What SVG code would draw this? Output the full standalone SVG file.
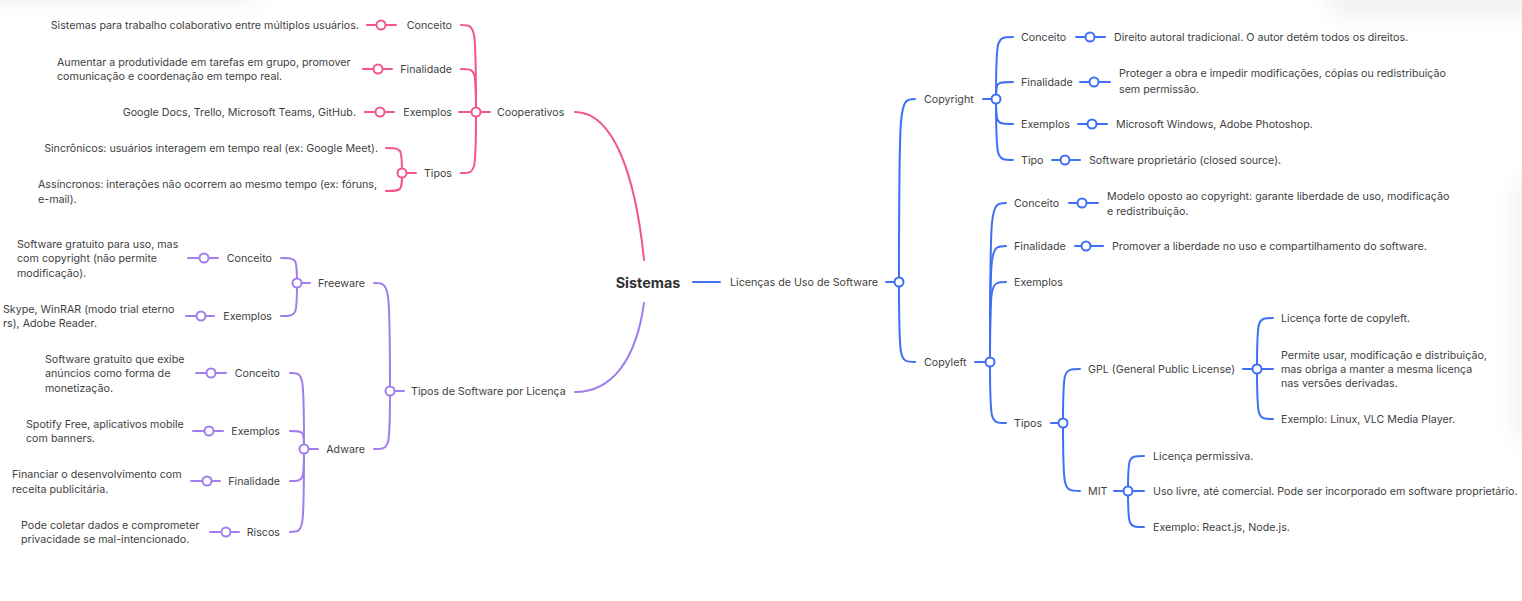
<svg xmlns="http://www.w3.org/2000/svg" width="1522" height="601" viewBox="0 0 1522 601">
<defs>
<filter id="sh" x="-50%" y="-50%" width="200%" height="200%"><feGaussianBlur stdDeviation="12"/></filter>
</defs>
<style>
text{font-family:Inter,"Noto Sans",sans-serif;font-size:10.7px;fill:#3f3f3f;dominant-baseline:central}
.e{text-anchor:end}
.root{font-size:14.4px;font-weight:700;fill:#333;text-anchor:middle}
path,line{fill:none;stroke-width:2;stroke-linecap:round}
.pk{stroke:#f2568a}.pu{stroke:#a27ded}.bl{stroke:#3f6ff3}
circle{fill:#fff;stroke-width:2}
circle.pk{stroke:#f2568a}circle.pu{stroke:#a27ded}circle.bl{stroke:#3f6ff3}
</style>
<rect width="1522" height="601" fill="#fff"/>
<g id="shadows" filter="url(#sh)" fill="#000" opacity="0.06">
<rect x="-60" y="-60" width="320" height="62"/>
<rect x="1330" y="-60" width="240" height="75"/>
<rect x="1515" y="180" width="40" height="260"/>
</g>
<g id="connectors">
<path class="pk" d="M575,112 C615,112 636,180 644,260"/>
<path class="pu" d="M575,392 C612,392 636,360 644,303"/>
<line class="bl" x1="693" y1="282" x2="720" y2="282"/>
<line class="pk" x1="459" y1="112" x2="490" y2="112"/>
<path class="pk" d="M476,112 C476,25 476,25 461,25"/>
<path class="pk" d="M476,112 C476,69 476,69 461,69"/>
<path class="pk" d="M476,112 C476,173 476,173 461,173"/>
<line class="pk" x1="367" y1="25" x2="396" y2="25"/>
<line class="pk" x1="363" y1="69" x2="392" y2="69"/>
<line class="pk" x1="365" y1="112" x2="394" y2="112"/>
<line class="pk" x1="402" y1="173" x2="416" y2="173"/>
<path class="pk" d="M402,173 C402,148 402,148 386,148"/>
<path class="pk" d="M402,173 C402,191 402,191 386,191"/>
<line class="pu" x1="390" y1="391" x2="404" y2="391"/>
<path class="pu" d="M390,391 C390,283 390,283 374,283"/>
<path class="pu" d="M390,391 C390,449 390,449 374,449"/>
<line class="pu" x1="297" y1="283" x2="310" y2="283"/>
<path class="pu" d="M297,283 C297,258 297,258 281,258"/>
<path class="pu" d="M297,283 C297,316 297,316 281,316"/>
<line class="pu" x1="188" y1="258" x2="218" y2="258"/>
<line class="pu" x1="186" y1="316" x2="214" y2="316"/>
<line class="pu" x1="304" y1="449" x2="318" y2="449"/>
<path class="pu" d="M304,449 C304,373 304,373 290,373"/>
<path class="pu" d="M304,449 C304,431 304,431 290,431"/>
<path class="pu" d="M304,449 C304,481 304,481 290,481"/>
<path class="pu" d="M304,449 C304,532 304,532 290,532"/>
<line class="pu" x1="196" y1="373" x2="226" y2="373"/>
<line class="pu" x1="193" y1="431" x2="223" y2="431"/>
<line class="pu" x1="191" y1="481" x2="220" y2="481"/>
<line class="pu" x1="210" y1="532" x2="239" y2="532"/>
<line class="bl" x1="886" y1="282" x2="899" y2="282"/>
<path class="bl" d="M899,282 C899,99 899,99 915,99"/>
<path class="bl" d="M899,282 C899,362 899,362 915,362"/>
<line class="bl" x1="983" y1="99" x2="996" y2="99"/>
<path class="bl" d="M996,99 C996,37 996,37 1013,37"/>
<path class="bl" d="M996,99 C996,82 996,82 1013,82"/>
<path class="bl" d="M996,99 C996,124 996,124 1013,124"/>
<path class="bl" d="M996,99 C996,160 996,160 1013,160"/>
<line class="bl" x1="1076" y1="37" x2="1105" y2="37"/>
<line class="bl" x1="1080" y1="82" x2="1110" y2="82"/>
<line class="bl" x1="1078" y1="124" x2="1107" y2="124"/>
<line class="bl" x1="1052" y1="160" x2="1080" y2="160"/>
<line class="bl" x1="975" y1="362" x2="990" y2="362"/>
<path class="bl" d="M990,362 C990,203 990,203 1006,203"/>
<path class="bl" d="M990,362 C990,246 990,246 1006,246"/>
<path class="bl" d="M990,362 C990,282 990,282 1006,282"/>
<path class="bl" d="M990,362 C990,423 990,423 1006,423"/>
<line class="bl" x1="1069" y1="203" x2="1098" y2="203"/>
<line class="bl" x1="1075" y1="246" x2="1103" y2="246"/>
<line class="bl" x1="1051" y1="423" x2="1063" y2="423"/>
<path class="bl" d="M1063,423 C1063,369 1063,369 1080,369"/>
<path class="bl" d="M1063,423 C1063,491 1063,491 1080,491"/>
<line class="bl" x1="1243" y1="369" x2="1273" y2="369"/>
<path class="bl" d="M1257,369 C1257,318 1257,318 1273,318"/>
<path class="bl" d="M1257,369 C1257,419 1257,419 1273,419"/>
<line class="bl" x1="1114" y1="491" x2="1144" y2="491"/>
<path class="bl" d="M1128,491 C1128,456 1128,456 1144,456"/>
<path class="bl" d="M1128,491 C1128,527 1128,527 1144,527"/>
</g>
<g id="dots">
<circle class="pk" cx="476" cy="112" r="4.5"/>
<circle class="pk" cx="381" cy="25" r="4.5"/>
<circle class="pk" cx="378" cy="69" r="4.5"/>
<circle class="pk" cx="380" cy="112" r="4.5"/>
<circle class="pk" cx="402" cy="173" r="4.5"/>
<circle class="pu" cx="390" cy="391" r="4.5"/>
<circle class="pu" cx="297" cy="283" r="4.5"/>
<circle class="pu" cx="204" cy="258" r="4.5"/>
<circle class="pu" cx="201" cy="316" r="4.5"/>
<circle class="pu" cx="304" cy="449" r="4.5"/>
<circle class="pu" cx="211" cy="373" r="4.5"/>
<circle class="pu" cx="209" cy="431" r="4.5"/>
<circle class="pu" cx="207" cy="481" r="4.5"/>
<circle class="pu" cx="226" cy="532" r="4.5"/>
<circle class="bl" cx="899" cy="282" r="4.5"/>
<circle class="bl" cx="996" cy="99" r="4.5"/>
<circle class="bl" cx="1090" cy="37" r="4.5"/>
<circle class="bl" cx="1094" cy="82" r="4.5"/>
<circle class="bl" cx="1092" cy="124" r="4.5"/>
<circle class="bl" cx="1065" cy="160" r="4.5"/>
<circle class="bl" cx="990" cy="362" r="4.5"/>
<circle class="bl" cx="1082" cy="203" r="4.5"/>
<circle class="bl" cx="1086" cy="246" r="4.5"/>
<circle class="bl" cx="1063" cy="423" r="4.5"/>
<circle class="bl" cx="1257" cy="369" r="4.5"/>
<circle class="bl" cx="1128" cy="491" r="4.5"/>
</g>
<g id="n-root"><text class="root" x="648" y="282">Sistemas</text></g>
<g id="n-cooperativos"><text x="497" y="112">Cooperativos</text></g>
<g id="n-coop-conceito"><text class="e" x="452" y="25">Conceito</text><text class="e" x="359" y="25">Sistemas para trabalho colaborativo entre múltiplos usuários.</text></g>
<g id="n-coop-finalidade"><text class="e" x="452" y="69">Finalidade</text><text x="57" y="62">Aumentar a produtividade em tarefas em grupo, promover</text><text x="57" y="76">comunicação e coordenação em tempo real.</text></g>
<g id="n-coop-exemplos"><text class="e" x="452" y="112">Exemplos</text><text class="e" x="356" y="112">Google Docs, Trello, Microsoft Teams, GitHub.</text></g>
<g id="n-coop-tipos"><text class="e" x="452" y="173">Tipos</text></g>
<g id="n-coop-sinc"><text class="e" x="378" y="148">Sincrônicos: usuários interagem em tempo real (ex: Google Meet).</text></g>
<g id="n-coop-assinc"><text x="38" y="184">Assíncronos: interações não ocorrem ao mesmo tempo (ex: fóruns,</text><text x="38" y="199">e-mail).</text></g>
<g id="n-tipos-lic"><text x="411" y="391">Tipos de Software por Licença</text></g>
<g id="n-freeware"><text class="e" x="365" y="283">Freeware</text></g>
<g id="n-fw-conceito"><text class="e" x="272" y="258">Conceito</text><text x="17" y="244">Software gratuito para uso, mas</text><text x="17" y="258">com copyright (não permite</text><text x="17" y="273">modificação).</text></g>
<g id="n-fw-exemplos"><text class="e" x="272" y="316">Exemplos</text><text x="3" y="309">Skype, WinRAR (modo trial eterno</text><text x="3" y="323">rs), Adobe Reader.</text></g>
<g id="n-adware"><text class="e" x="365" y="449">Adware</text></g>
<g id="n-aw-conceito"><text class="e" x="280" y="373">Conceito</text><text x="45" y="359">Software gratuito que exibe</text><text x="45" y="373">anúncios como forma de</text><text x="45" y="388">monetização.</text></g>
<g id="n-aw-exemplos"><text class="e" x="280" y="431">Exemplos</text><text x="26" y="424">Spotify Free, aplicativos mobile</text><text x="26" y="438">com banners.</text></g>
<g id="n-aw-finalidade"><text class="e" x="280" y="481">Finalidade</text><text x="12" y="474">Financiar o desenvolvimento com</text><text x="12" y="489">receita publicitária.</text></g>
<g id="n-aw-riscos"><text class="e" x="280" y="532">Riscos</text><text x="21" y="525">Pode coletar dados e comprometer</text><text x="21" y="539">privacidade se mal-intencionado.</text></g>
<g id="n-licencas"><text x="730" y="282">Licenças de Uso de Software</text></g>
<g id="n-copyright"><text x="924" y="99">Copyright</text></g>
<g id="n-cr-conceito"><text x="1021" y="37">Conceito</text><text x="1114" y="37">Direito autoral tradicional. O autor detém todos os direitos.</text></g>
<g id="n-cr-finalidade"><text x="1021" y="82">Finalidade</text><text x="1119" y="73">Proteger a obra e impedir modificações, cópias ou redistribuição</text><text x="1119" y="89">sem permissão.</text></g>
<g id="n-cr-exemplos"><text x="1021" y="124">Exemplos</text><text x="1116" y="124">Microsoft Windows, Adobe Photoshop.</text></g>
<g id="n-cr-tipo"><text x="1021" y="160">Tipo</text><text x="1089" y="160">Software proprietário (closed source).</text></g>
<g id="n-copyleft"><text x="924" y="362">Copyleft</text></g>
<g id="n-cl-conceito"><text x="1014" y="203">Conceito</text><text x="1107" y="196">Modelo oposto ao copyright: garante liberdade de uso, modificação</text><text x="1107" y="211">e redistribuição.</text></g>
<g id="n-cl-finalidade"><text x="1014" y="246">Finalidade</text><text x="1112" y="246">Promover a liberdade no uso e compartilhamento do software.</text></g>
<g id="n-cl-exemplos"><text x="1014" y="282">Exemplos</text></g>
<g id="n-cl-tipos"><text x="1014" y="423">Tipos</text></g>
<g id="n-gpl"><text x="1088" y="369">GPL (General Public License)</text></g>
<g id="n-gpl-1"><text x="1281" y="318">Licença forte de copyleft.</text></g>
<g id="n-gpl-2"><text x="1281" y="355">Permite usar, modificação e distribuição,</text><text x="1281" y="369">mas obriga a manter a mesma licença</text><text x="1281" y="383">nas versões derivadas.</text></g>
<g id="n-gpl-3"><text x="1281" y="419">Exemplo: Linux, VLC Media Player.</text></g>
<g id="n-mit"><text x="1088" y="491">MIT</text></g>
<g id="n-mit-1"><text x="1153" y="456">Licença permissiva.</text></g>
<g id="n-mit-2"><text x="1153" y="491">Uso livre, até comercial. Pode ser incorporado em software proprietário.</text></g>
<g id="n-mit-3"><text x="1153" y="527">Exemplo: React.js, Node.js.</text></g>
</svg>
